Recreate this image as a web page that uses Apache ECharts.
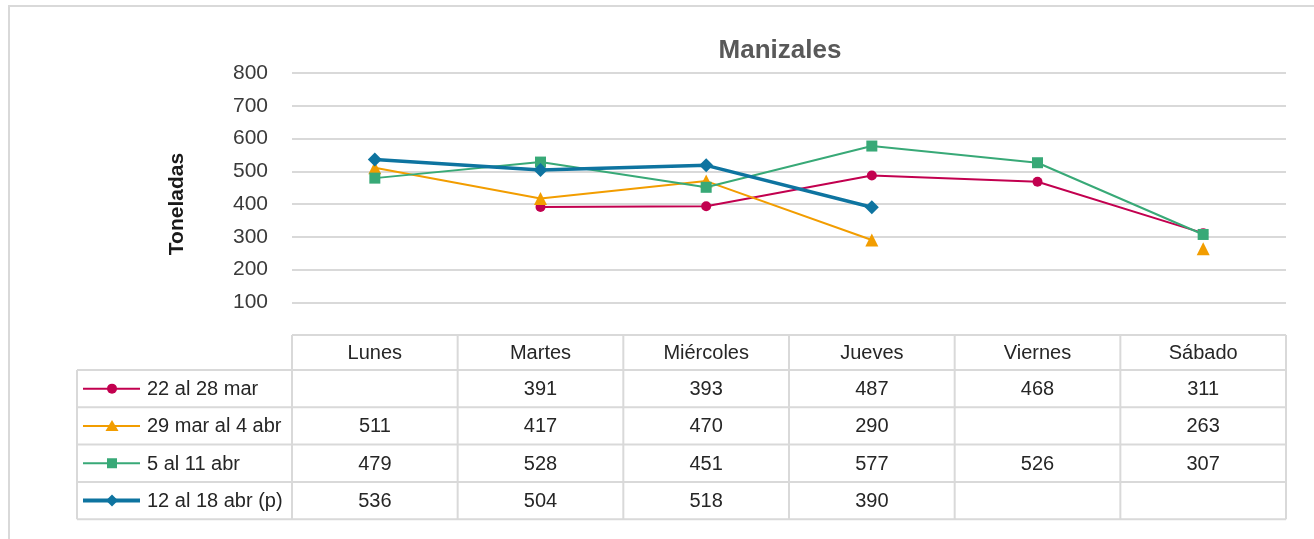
<!DOCTYPE html>
<html>
<head>
<meta charset="utf-8">
<script src="https://cdn.jsdelivr.net/npm/echarts@6/dist/echarts.min.js"></script>
<style>
html,body{margin:0;padding:0;background:#fff;}
#c{width:1314px;height:539px;}
</style>
</head>
<body>
<div id="c"></div>
<script>
const categories = ['Lunes', 'Martes', 'Miércoles', 'Jueves', 'Viernes', 'Sábado'];
const seriesNames = ['22 al 28 mar', '29 mar al 4 abr', '5 al 11 abr', '12 al 18 abr (p)'];
const week1 = [null, 391, 393, 487, 468, 311];
const week2 = [511, 417, 470, 290, null, 263];
const week3 = [479, 528, 451, 577, 526, 307];
const week4 = [536, 504, 518, 390, null, null];
const yMin = 0, yMax = 800, yStep = 100;

const allData = [week1, week2, week3, week4];
const colors = ['#C2004F', '#F29D00', '#38A977', '#0E74A0'];
const symbols = ['circle', 'triangle', 'rect', 'diamond'];
const symbolSizes = [10, 13, 11, 14];
const lineWidths = [2, 2, 2, 3.5];
const FONT = '"Liberation Sans", Arial, sans-serif';

const chart = echarts.init(document.getElementById('c'), null, {renderer: 'canvas'});

const series = allData.map((d, i) => ({
  name: seriesNames[i],
  type: 'line',
  data: d,
  connectNulls: false,
  symbol: symbols[i],
  symbolSize: symbolSizes[i],
  showSymbol: true,
  itemStyle: {color: colors[i], borderWidth: 0},
  lineStyle: {color: colors[i], width: lineWidths[i]},
  emphasis: {disabled: true},
  animation: false,
  z: 3 + i
}));

const option = {
  animation: false,
  backgroundColor: '#ffffff',
  title: {
    text: 'Manizales',
    left: 775, top: 33, textAlign: 'center',
    textStyle: {fontFamily: FONT, fontSize: 26, fontWeight: 'bold', color: '#595959'}
  },
  grid: {left: 292, right: 28, top: 73, bottom: 204, containLabel: false},
  xAxis: {
    type: 'category', data: categories, boundaryGap: true,
    axisLine: {show: false}, axisTick: {show: false}, axisLabel: {show: false}, splitLine: {show: false}
  },
  yAxis: {
    type: 'value', min: yMin, max: yMax, interval: yStep,
    name: 'Toneladas', nameLocation: 'middle', nameGap: 104, nameRotate: 90,
    nameTextStyle: {fontFamily: FONT, fontSize: 21, fontWeight: 'bold', color: '#1a1a1a'},
    axisLine: {show: false}, axisTick: {show: false},
    axisLabel: {
      margin: 24, fontFamily: FONT, fontSize: 21, color: '#3a3a3a',
      formatter: v => (v === 0 ? '' : String(v))
    },
    splitLine: {
      lineStyle: {color: '#d9d9d9', width: 2},
      showMinLine: false
    }
  },
  series: series
};
chart.setOption(option);

// Build data table below the plot, aligned with category axis
function buildTable() {
  const c0 = chart.convertToPixel({gridIndex: 0}, [0, yMin]);
  const c1 = chart.convertToPixel({gridIndex: 0}, [1, yMin]);
  const band = c1[0] - c0[0];
  const n = categories.length;
  const xb = [];
  for (let i = 0; i <= n; i++) xb.push(c0[0] - band / 2 + i * band);
  const yTop = c0[1];
  const headerH = 35;
  const rowH = 37.3;
  const leftX = 77;
  const rowsTop = yTop + headerH;
  const bottom = rowsTop + rowH * seriesNames.length;
  const lineStyle = {stroke: '#d9d9d9', lineWidth: 2};
  const g = [];
  // frame of the slide
  g.push({type: 'line', shape: {x1: 8, y1: 6, x2: 1314, y2: 6}, style: {stroke: '#d9d9d9', lineWidth: 2}, silent: true});
  g.push({type: 'line', shape: {x1: 9, y1: 6, x2: 9, y2: 539}, style: {stroke: '#d9d9d9', lineWidth: 2}, silent: true});
  // horizontal lines
  g.push({type: 'line', shape: {x1: xb[0], y1: yTop, x2: xb[n], y2: yTop}, style: lineStyle, silent: true});
  for (let r = 0; r <= seriesNames.length; r++) {
    const y = rowsTop + r * rowH;
    g.push({type: 'line', shape: {x1: leftX, y1: y, x2: xb[n], y2: y}, style: lineStyle, silent: true});
  }
  // vertical lines
  g.push({type: 'line', shape: {x1: leftX, y1: rowsTop, x2: leftX, y2: bottom}, style: lineStyle, silent: true});
  for (let i = 0; i <= n; i++) {
    g.push({type: 'line', shape: {x1: xb[i], y1: yTop, x2: xb[i], y2: bottom}, style: lineStyle, silent: true});
  }
  // header texts
  categories.forEach((cat, i) => {
    const cx = chart.convertToPixel({gridIndex: 0}, [i, yMin])[0];
    g.push({type: 'text', x: cx, y: yTop + headerH / 2 + 1, silent: true,
      style: {text: cat, fill: '#262626', font: '20px ' + FONT, align: 'center', verticalAlign: 'middle'}});
  });
  // rows
  seriesNames.forEach((name, r) => {
    const cy = rowsTop + r * rowH + rowH / 2;
    const col = colors[r];
    g.push({type: 'line', shape: {x1: 83, y1: cy, x2: 140, y2: cy}, style: {stroke: col, lineWidth: r === 3 ? 4 : 2}, silent: true});
    const mx = 112;
    if (symbols[r] === 'circle') {
      g.push({type: 'circle', shape: {cx: mx, cy: cy, r: 5}, style: {fill: col}, silent: true});
    } else if (symbols[r] === 'triangle') {
      g.push({type: 'polygon', shape: {points: [[mx, cy - 6], [mx + 6.5, cy + 5], [mx - 6.5, cy + 5]]}, style: {fill: col}, silent: true});
    } else if (symbols[r] === 'rect') {
      g.push({type: 'rect', shape: {x: mx - 5, y: cy - 5, width: 10, height: 10}, style: {fill: col}, silent: true});
    } else {
      g.push({type: 'polygon', shape: {points: [[mx, cy - 6], [mx + 6, cy], [mx, cy + 6], [mx - 6, cy]]}, style: {fill: col}, silent: true});
    }
    g.push({type: 'text', x: 147, y: cy + 1, silent: true,
      style: {text: name, fill: '#262626', font: '20px ' + FONT, align: 'left', verticalAlign: 'middle'}});
    allData[r].forEach((v, i) => {
      if (v === null) return;
      const cx = chart.convertToPixel({gridIndex: 0}, [i, yMin])[0];
      g.push({type: 'text', x: cx, y: cy + 1, silent: true,
        style: {text: String(v), fill: '#262626', font: '20px ' + FONT, align: 'center', verticalAlign: 'middle'}});
    });
  });
  chart.setOption({graphic: g});
}
buildTable();
</script>
</body>
</html>
